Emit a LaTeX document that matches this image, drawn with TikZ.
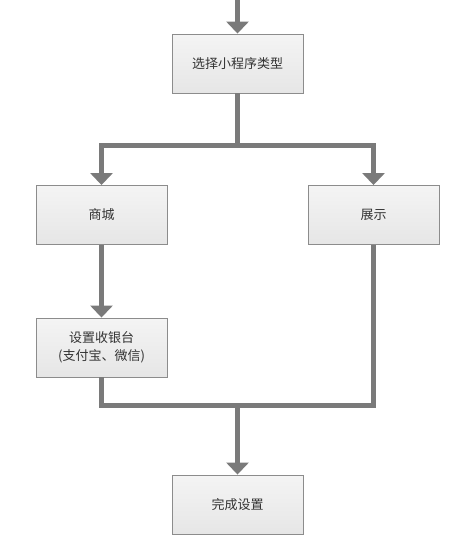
\documentclass[tikz,border=0pt]{standalone}
\usepackage{fontspec}
\newfontfamily\cjk{Noto Sans CJK SC}
\usetikzlibrary{arrows.meta}
\definecolor{linegray}{HTML}{7A7A7A}
\definecolor{boxborder}{HTML}{8C8C8C}
\definecolor{boxtop}{HTML}{F4F4F4}
\definecolor{boxbot}{HTML}{E6E6E6}
\definecolor{txt}{HTML}{333333}
\tikzset{
  stepbox/.style={draw=boxborder, line width=0.9pt, top color=boxtop, bottom color=boxbot,
    minimum width=131pt, minimum height=59pt, inner sep=0pt, align=center,
    font=\cjk\fontsize{13pt}{18pt}\selectfont, text=txt},
  flow/.style={draw=linegray, line width=5pt, line join=miter},
  flowarrow/.style={flow, -{Triangle[width=22pt,length=12pt]}},
}
\begin{document}
\begin{tikzpicture}[x=1pt,y=-1pt]
\useasboundingbox (0,0) rectangle (470,554);
\node[stepbox] (b1) at (237.5,63.5) {选择小程序类型};
\node[stepbox] (mall) at (101.5,215) {商城};
\node[stepbox] (show) at (373.5,215) {展示};
\node[stepbox] (pay) at (101.5,347.5) {设置收银台\\(支付宝、微信)};
\node[stepbox] (done) at (237.5,504.5) {完成设置};
\coordinate (start) at (237.5,-3);
\coordinate (j1) at (237.5,145);
\coordinate (j2) at (237.5,405);
\draw[flowarrow] (start) -- (b1.north);
\draw[flow] (b1.south) -- (j1);
\draw[flowarrow] (j1) -| (mall.north);
\draw[flowarrow] (j1) -| (show.north);
\draw[flowarrow] (mall.south) -- (pay.north);
\draw[flow] (pay.south) |- (j2) -| (show.south);
\draw[flowarrow] (j2) -- (done.north);
\end{tikzpicture}
\end{document}
